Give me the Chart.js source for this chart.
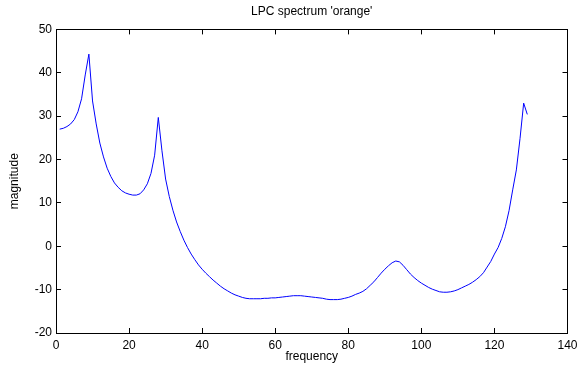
<!DOCTYPE html>
<html>
<head>
<meta charset="utf-8">
<script src="https://cdn.jsdelivr.net/npm/chart.js@4/dist/chart.umd.min.js"></script>
<style>
    html, body { margin: 0; padding: 0; background: #fff; }
    #wrap { width: 580px; height: 365px; }
</style>
</head>
<body>
<div id="wrap"><canvas id="lpcChart" width="580" height="365"></canvas></div>
<script>
// frequency bins (x)
const frequency = [
    1, 2, 3, 4, 5, 6, 7, 8, 9, 10, 11, 12, 13, 14, 15, 16, 17, 18, 19, 20,
    21, 22, 23, 24, 25, 26, 27, 28, 29, 30, 31, 32, 33, 34, 35, 36, 37, 38, 39, 40,
    41, 42, 43, 44, 45, 46, 47, 48, 49, 50, 51, 52, 53, 54, 55, 56, 57, 58, 59, 60,
    61, 62, 63, 64, 65, 66, 67, 68, 69, 70, 71, 72, 73, 74, 75, 76, 77, 78, 79, 80,
    81, 82, 83, 84, 85, 86, 87, 88, 89, 90, 91, 92, 93, 94, 95, 96, 97, 98, 99, 100,
    101, 102, 103, 104, 105, 106, 107, 108, 109, 110, 111, 112, 113, 114, 115, 116, 117, 118, 119, 120,
    121, 122, 123, 124, 125, 126, 127, 128, 129
];

// LPC magnitude (dB)
const magnitude = [
    27.0, 27.2, 27.6, 28.2, 29.2, 31.0, 34.0, 39.5, 44.3, 33.5,
    28.2, 23.8, 20.6, 18.0, 16.1, 14.6, 13.6, 12.8, 12.3, 12.0,
    11.8, 11.8, 12.1, 13.0, 14.4, 16.8, 21.0, 29.7, 22.0, 15.5,
    11.5, 8.3, 5.6, 3.4, 1.4, -0.3, -1.8, -3.1, -4.3, -5.3,
    -6.2, -7.0, -7.8, -8.5, -9.2, -9.8, -10.3, -10.8, -11.2, -11.5,
    -11.8, -12.0, -12.1, -12.1, -12.1, -12.1, -12.0, -12.0, -11.9, -11.9,
    -11.8, -11.7, -11.6, -11.5, -11.4, -11.4, -11.4, -11.5, -11.6, -11.7,
    -11.8, -11.9, -12.0, -12.2, -12.3, -12.3, -12.3, -12.2, -12.0, -11.8,
    -11.5, -11.1, -10.8, -10.4, -9.8, -9.0, -8.2, -7.2, -6.2, -5.3,
    -4.5, -3.8, -3.4, -3.6, -4.4, -5.4, -6.4, -7.2, -7.9, -8.5,
    -9.0, -9.5, -9.9, -10.2, -10.5, -10.6, -10.6, -10.5, -10.3, -10.0,
    -9.6, -9.2, -8.8, -8.3, -7.7, -7.0, -6.1, -4.8, -3.5, -1.8,
    -0.3, 1.8, 4.5, 8.2, 13.0, 17.6, 24.8, 33.0, 30.4
];

const xTicks = [0, 20, 40, 60, 80, 100, 120, 140];
const yTicks = [-20, -10, 0, 10, 20, 30, 40, 50];

const FONT = { family: '"Liberation Sans", Arial, Helvetica, sans-serif', size: 12 };

// frame: axis borders + inward ticks (negative tick length), MATLAB style
const frameGrid = { display: true, drawOnChartArea: false, drawTicks: true, tickLength: -5, color: 'rgba(0,0,0,1)', lineWidth: 1 };
const frameBorder = { display: true, color: 'rgba(0,0,0,1)', width: 1 };

new Chart(document.getElementById('lpcChart').getContext('2d'), {
    type: 'line',
    data: {
        labels: frequency,
        datasets: [{
            data: magnitude,
            borderColor: '#0000ff',
            borderWidth: 1,
            pointRadius: 0,
            tension: 0,
            fill: false
        }]
    },
    options: {
        responsive: false,
        animation: false,
        layout: { padding: { left: 0, right: 12.5, top: 0, bottom: 0 } },
        plugins: {
            legend: { display: false },
            tooltip: { enabled: false },
            title: {
                display: true,
                fullSize: false,
                text: "LPC spectrum 'orange'",
                color: '#000',
                font: { ...FONT, weight: 'normal' },
                padding: { top: 4, bottom: 11 }
            }
        },
        scales: {
            x: {
                type: 'linear',
                min: 0,
                max: 140,
                afterBuildTicks: s => { s.ticks = xTicks.map(v => ({ value: v })); },
                afterFit: s => { s.height = 32; s.paddingLeft = 0; s.paddingRight = 0; },
                grid: frameGrid,
                border: frameBorder,
                ticks: { color: '#000', font: FONT, padding: 10, maxRotation: 0 },
                title: {
                    display: true,
                    text: 'frequency',
                    color: '#000',
                    font: FONT,
                    padding: { top: 0, bottom: 1 }
                }
            },
            y: {
                type: 'linear',
                min: -20,
                max: 50,
                afterBuildTicks: s => { s.ticks = yTicks.map(v => ({ value: v })); },
                afterFit: s => { s.width = 56; s.paddingTop = 0; s.paddingBottom = 0; },
                grid: frameGrid,
                border: frameBorder,
                ticks: { color: '#000', font: FONT, padding: 9 },
                title: {
                    display: true,
                    text: 'magnitude',
                    color: '#000',
                    font: FONT,
                    padding: { top: 7, bottom: 0 }
                }
            },
            x2: {
                type: 'linear',
                position: 'top',
                min: 0,
                max: 140,
                afterBuildTicks: s => { s.ticks = xTicks.map(v => ({ value: v })); },
                afterFit: s => { s.height = 0; s.paddingLeft = 0; s.paddingRight = 0; },
                grid: frameGrid,
                border: frameBorder,
                ticks: { display: false }
            },
            y2: {
                type: 'linear',
                position: 'right',
                min: -20,
                max: 50,
                afterBuildTicks: s => { s.ticks = yTicks.map(v => ({ value: v })); },
                afterFit: s => { s.width = 0; s.paddingTop = 0; s.paddingBottom = 0; },
                grid: frameGrid,
                border: frameBorder,
                ticks: { display: false }
            }
        }
    }
});
</script>
</body>
</html>
